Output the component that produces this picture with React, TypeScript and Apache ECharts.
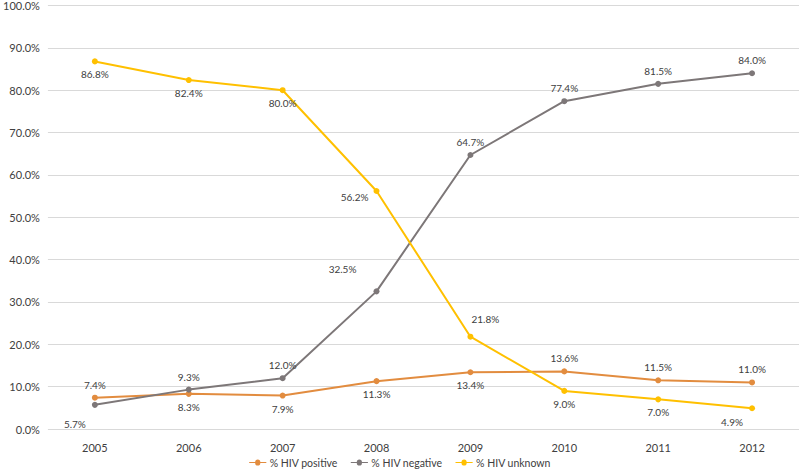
import React, { useEffect, useRef } from "react";
import * as echarts from "echarts";

const years = ["2005", "2006", "2007", "2008", "2009", "2010", "2011", "2012"];
const hivPositive = [7.4, 8.3, 7.9, 11.3, 13.4, 13.6, 11.5, 11.0];
const hivNegative = [5.7, 9.3, 12.0, 32.5, 64.7, 77.4, 81.5, 84.0];
const hivUnknown = [86.8, 82.4, 80.0, 56.2, 21.8, 9.0, 7.0, 4.9];
const seriesNames = ["% HIV positive", "% HIV negative", "% HIV unknown"];

type LP = { position: string; offset?: number[] };
const posLabels: LP[] = [
  { position: "top" }, { position: "bottom" }, { position: "bottom" }, { position: "bottom" },
  { position: "bottom" }, { position: "top" }, { position: "top" }, { position: "top" },
];
const negLabels: LP[] = [
  { position: "bottom", offset: [-20, 6] }, { position: "top" }, { position: "top" },
  { position: "top", offset: [-34, -9] }, { position: "top" }, { position: "top" },
  { position: "top" }, { position: "top" },
];
const unkLabels: LP[] = [
  { position: "bottom" }, { position: "bottom" }, { position: "bottom" },
  { position: "left", offset: [0, 6] }, { position: "top", offset: [15, -5] },
  { position: "bottom" }, { position: "bottom" }, { position: "bottom", offset: [-20, 1] },
];

const FONT = "Lato, 'Open Sans', sans-serif";

function build(values: number[], labels: LP[]) {
  return values.map((v, i) => ({
    value: v,
    label: { position: labels[i].position, offset: labels[i].offset || [0, 0] },
  }));
}

export default function App() {
  const ref = useRef<HTMLDivElement>(null);
  useEffect(() => {
    if (!ref.current) return;
    const chart = echarts.init(ref.current, undefined, { renderer: "svg" });
    const colors = ["#E28C3F", "#7D7778", "#FFC000"];
    const datasets = [
      build(hivPositive, posLabels),
      build(hivNegative, negLabels),
      build(hivUnknown, unkLabels),
    ];
    chart.setOption({
      animation: false,
      backgroundColor: "#ffffff",
      color: colors,
      grid: { left: 44, right: 1, top: 5, bottom: 43, containLabel: false },
      legend: {
        bottom: -1,
        left: "center",
        itemWidth: 20,
        itemHeight: 6,
        itemGap: 13,
        icon: "path://M0,2.5 L7,2.5 A3,3 0 1 1 13,2.5 L20,2.5 L20,3.5 L13,3.5 A3,3 0 1 1 7,3.5 L0,3.5 Z",
        textStyle: { fontFamily: FONT, fontSize: 10.5, color: "#404040", padding: [0, 0, 0, -3] },
        data: seriesNames,
      },
      xAxis: {
        type: "category",
        data: years,
        boundaryGap: true,
        axisLine: { show: false },
        axisTick: { show: false },
        axisLabel: { fontFamily: FONT, fontSize: 11, color: "#404040", margin: 13 },
      },
      yAxis: {
        type: "value",
        min: 0,
        max: 100,
        interval: 10,
        axisLine: { show: false },
        axisTick: { show: false },
        splitLine: { lineStyle: { color: "#D9D9D9", width: 1 } },
        axisLabel: {
          fontFamily: FONT,
          fontSize: 11,
          color: "#404040",
          margin: 8,
          formatter: (v: number) => v.toFixed(1) + "%",
        },
      },
      series: seriesNames.map((name, k) => ({
        name,
        type: "line",
        data: datasets[k],
        symbol: "circle",
        symbolSize: 6,
        lineStyle: { width: 2, color: colors[k] },
        itemStyle: { color: colors[k] },
        label: {
          show: true,
          fontFamily: FONT,
          fontSize: 10,
          color: "#404040",
          formatter: (p: any) => Number(p.value).toFixed(1) + "%",
        },
      })),
    });
    return () => chart.dispose();
  }, []);
  return <div ref={ref} style={{ width: 800, height: 472, position: "absolute", left: 0, top: 0 }} />;
}
